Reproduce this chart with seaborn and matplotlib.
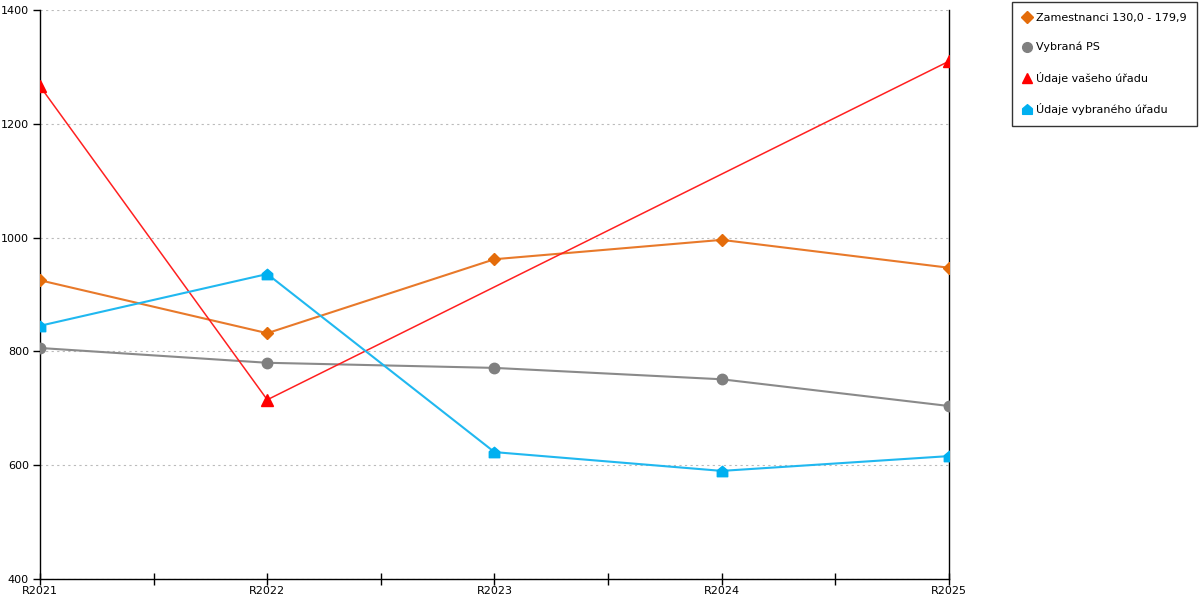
import numpy as np
import pandas as pd
import matplotlib
matplotlib.use("Agg")
import matplotlib.pyplot as plt
import seaborn as sns
from matplotlib.path import Path
from matplotlib.lines import Line2D

categories = ["R2021", "R2022", "R2023", "R2024", "R2025"]
zamestnanci = [925, 832, 962, 996, 947]
vybrana_ps = [806, 780, 771, 751, 704]
udaje_vaseho = [1266, 715, np.nan, np.nan, 1310]
udaje_vybraneho = [845, 936, 623, 590, 616]

series_names = ["Zamestnanci 130,0 - 179,9", "Vybraná PS", "Údaje vašeho úřadu", "Údaje vybraného úřadu"]
series_values = [zamestnanci, vybrana_ps, udaje_vaseho, udaje_vybraneho]
colors = ["#E46C0A", "#808080", "#FF0000", "#00B0F0"]
line_colors = ["#E8792A", "#8A8A8A", "#FF2020", "#20B8F0"]
house = Path([(-1, -1), (1, -1), (1, 0.15), (0, 1), (-1, 0.15), (-1, -1)],
             [Path.MOVETO, Path.LINETO, Path.LINETO, Path.LINETO, Path.LINETO, Path.CLOSEPOLY])
markers = ["D", "o", "^", house]
msizes = [6.5, 7.5, 8, 7.5]
lws = [1.5, 1.5, 1.1, 1.5]

sns.set_theme(style="white")
plt.rcParams['font.family'] = ['DejaVu Sans']

fig = plt.figure(figsize=(12, 6), dpi=100)
ax = fig.add_axes([40/1200, 21/600, (949-40)/1200, (579-10)/600])

for name, vals, c, lc, m, ms, lw in zip(series_names, series_values, colors, line_colors, markers, msizes, lws):
    df = pd.DataFrame({"x": np.arange(len(categories)), "y": vals}).dropna()
    sns.lineplot(data=df, x="x", y="y", ax=ax, color=lc, linewidth=lw, marker=None, legend=False, zorder=3)
    ax.plot(df["x"], df["y"], linestyle="none", marker=m, markersize=ms, color=c,
            markeredgecolor=c, zorder=4)

ax.set_xlim(0, 4)
ax.set_ylim(400, 1400)
ax.set_xticks(range(len(categories)))
ax.set_xticklabels(categories)
ax.set_xticks(np.arange(0.5, 4, 0.5), minor=True)
ax.set_yticks([400, 600, 800, 1000, 1200, 1400])
ax.set_xlabel("")
ax.set_ylabel("")
ax.yaxis.grid(True, linestyle=(0, (2, 3)), color="#BBBBBB", linewidth=0.8)
ax.xaxis.grid(False)
ax.set_axisbelow(True)

for s in ["left", "bottom", "right"]:
    ax.spines[s].set_visible(True)
    ax.spines[s].set_color("black")
    ax.spines[s].set_linewidth(1)
ax.spines["top"].set_visible(False)

ax.tick_params(axis="x", which="both", direction="inout", length=8, width=1, color="black",
               labelsize=8, pad=1, bottom=True, labelcolor="black")
ax.tick_params(axis="x", which="minor", labelbottom=False)
ax.tick_params(axis="y", which="major", direction="out", length=5, width=1, color="black",
               labelsize=8, pad=3, left=True, labelcolor="black")

handles = [Line2D([], [], linestyle="none", marker=m, markersize=ms - 0.5, color=c)
           for m, ms, c in zip(markers, msizes, colors)]
leg = fig.legend(handles, series_names, loc="upper left", bbox_to_anchor=(1012/1200, 1 - 2/600),
                 frameon=True, fancybox=False, edgecolor="black", fontsize=8,
                 handletextpad=0.4, handlelength=0.8, labelspacing=1.75, borderpad=0.95,
                 borderaxespad=0, labelcolor="black")
leg.get_frame().set_linewidth(1)

fig.savefig("out.png", dpi=100)
